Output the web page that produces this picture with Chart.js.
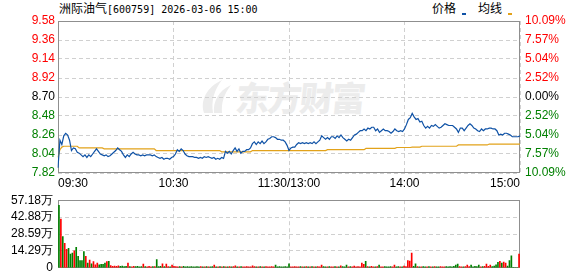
<!DOCTYPE html>
<html>
<head>
<meta charset="utf-8">
<script src="https://cdn.jsdelivr.net/npm/chart.js@4.4.1/dist/chart.umd.min.js"></script>
<style>
  body { margin: 0; width: 578px; height: 276px; overflow: hidden; background: #fff; position: relative; }
  .cjk { font-family: "Noto Sans CJK SC", sans-serif; }
  #title { position: absolute; left: 59px; top: 0; line-height: 16px; font-size: 12px; color: #000; white-space: nowrap; }
  #title .mono { font-family: "DejaVu Sans Mono", monospace; font-size: 10px; }
  .lg { position: absolute; top: 0; line-height: 16px; font-size: 12px; color: #000; }
  .sw { position: absolute; top: 13px; width: 4px; height: 2px; }
  #wm { position: absolute; left: 236px; top: 76px; font-size: 34px; letter-spacing: -2px; font-weight: 900; color: #ececec; line-height: 42px; transform: skewX(-6deg); }
  #logo { position: absolute; left: 197px; top: 78px; }
  canvas { position: absolute; left: 0; }
</style>
</head>
<body>
<svg id="logo" width="38" height="38" viewBox="0 0 38 38">
  <path d="M7 35 C3 22 10 9 25 2 C17 12 14 23 16 35 Z" fill="#ececec"/>
  <path d="M17 35 C16 24 21 13 34 7 C27 16 24 25 25 35 Z" fill="#ececec"/>
</svg>
<div id="wm" class="cjk">东方财富</div>
<div id="title"><span class="cjk">洲际油气</span><span class="mono">[600759] 2026-03-06 15:00</span></div>
<div class="lg cjk" style="left:432px">价格</div>
<div class="sw" style="left:462px;background:#0f52a6"></div>
<div class="lg cjk" style="left:478px">均线</div>
<div class="sw" style="left:508px;background:#e2a21a"></div>
<canvas id="priceChart" width="578" height="190" style="top:0"></canvas>
<canvas id="volChart" width="578" height="92" style="top:188px"></canvas>
<script>
// 分时数据
const prevClose = 8.70;
const priceMin = 7.82;
const priceMax = 9.58;
const priceStep = 0.22;
const volMax = 57.18;

const xTickLabels = ['09:30', '10:30', '11:30/13:00', '14:00', '15:00'];
const pctLabels = ['10.09%', '7.57%', '5.04%', '2.52%', '0.00%', '2.52%', '5.04%', '7.57%', '10.09%'];
const volLabels = ['0', '14.29万', '28.59万', '42.88万', '57.18万'];

// 时间轴 09:30-11:30, 13:01-15:00
const times = [];
for (let m = 0; m <= 240; m++) {
    let t = m <= 120 ? 9 * 60 + 30 + m : 13 * 60 + (m - 120);
    times.push(String(Math.floor(t / 60)).padStart(2, '0') + ':' + String(t % 60).padStart(2, '0'));
}

const prices = [
    7.88, 8.20, 8.15, 8.25, 8.28, 8.26, 8.20, 8.08, 8.11, 8.10,
    8.06, 8.05, 8.03, 8.01, 8.03, 8.00, 8.03, 8.01, 8.04, 8.07,
    8.10, 8.07, 8.04, 8.03, 8.02, 8.03, 8.01, 8.02, 8.04, 8.06,
    8.08, 8.11, 8.09, 8.07, 8.03, 8.00, 8.03, 8.01, 8.04, 8.06,
    8.04, 8.03, 8.03, 8.02, 8.03, 8.02, 8.03, 8.03, 8.03, 8.02,
    8.03, 8.01, 8.00, 7.99, 8.00, 7.98, 7.99, 7.99, 7.98, 8.00,
    8.01, 8.04, 8.09, 8.07, 8.10, 8.08, 8.04, 8.02, 8.01, 8.01,
    8.01, 8.00, 8.00, 7.99, 8.00, 7.99, 8.01, 8.00, 8.01, 8.00,
    7.99, 8.00, 7.98, 7.99, 7.98, 8.00, 7.99, 8.07, 8.05, 8.07,
    8.04, 8.08, 8.11, 8.07, 8.10, 8.05, 8.07, 8.07, 8.09, 8.09,
    8.11, 8.16, 8.18, 8.15, 8.18, 8.16, 8.19, 8.16, 8.18, 8.21,
    8.22, 8.24, 8.24, 8.23, 8.21, 8.21, 8.20, 8.20, 8.18, 8.14,
    8.08, 8.11, 8.12, 8.12, 8.15, 8.17, 8.16, 8.17, 8.16, 8.17,
    8.16, 8.17, 8.16, 8.18, 8.16, 8.18, 8.20, 8.25, 8.23, 8.21,
    8.23, 8.21, 8.24, 8.24, 8.22, 8.25, 8.23, 8.26, 8.23, 8.21,
    8.19, 8.21, 8.20, 8.23, 8.26, 8.27, 8.29, 8.31, 8.31, 8.33,
    8.31, 8.34, 8.33, 8.35, 8.35, 8.31, 8.33, 8.29, 8.31, 8.33,
    8.31, 8.31, 8.30, 8.28, 8.30, 8.33, 8.31, 8.30, 8.31, 8.30,
    8.33, 8.38, 8.44, 8.46, 8.51, 8.47, 8.44, 8.45, 8.41, 8.42,
    8.37, 8.34, 8.36, 8.34, 8.37, 8.36, 8.38, 8.36, 8.34, 8.35,
    8.37, 8.39, 8.38, 8.37, 8.37, 8.37, 8.35, 8.33, 8.29, 8.34,
    8.34, 8.31, 8.34, 8.37, 8.39, 8.37, 8.34, 8.33, 8.31, 8.30,
    8.33, 8.31, 8.33, 8.33, 8.34, 8.34, 8.33, 8.33, 8.31, 8.26,
    8.27, 8.26, 8.28, 8.28, 8.27, 8.26, 8.24, 8.24, 8.24, 8.24,
    8.25
];

const avgPrices = [
    8.00, 8.09, 8.12, 8.13, 8.13, 8.13, 8.13, 8.13, 8.13, 8.13,
    8.13, 8.11, 8.11, 8.11, 8.11, 8.11, 8.11, 8.11, 8.11, 8.11,
    8.11, 8.11, 8.11, 8.11, 8.10, 8.10, 8.10, 8.10, 8.10, 8.10,
    8.10, 8.10, 8.10, 8.10, 8.10, 8.10, 8.10, 8.10, 8.10, 8.10,
    8.10, 8.10, 8.10, 8.10, 8.10, 8.10, 8.10, 8.10, 8.10, 8.10,
    8.10, 8.08, 8.08, 8.08, 8.08, 8.08, 8.08, 8.08, 8.08, 8.08,
    8.08, 8.08, 8.08, 8.08, 8.08, 8.08, 8.08, 8.08, 8.08, 8.08,
    8.08, 8.08, 8.08, 8.08, 8.08, 8.08, 8.08, 8.08, 8.08, 8.08,
    8.08, 8.08, 8.08, 8.08, 8.08, 8.065, 8.065, 8.065, 8.065, 8.065,
    8.065, 8.065, 8.065, 8.065, 8.065, 8.065, 8.065, 8.065, 8.065, 8.065,
    8.065, 8.08, 8.08, 8.08, 8.08, 8.08, 8.08, 8.08, 8.08, 8.08,
    8.08, 8.08, 8.08, 8.08, 8.08, 8.08, 8.08, 8.08, 8.08, 8.08,
    8.08, 8.08, 8.08, 8.08, 8.08, 8.08, 8.08, 8.08, 8.08, 8.08,
    8.08, 8.08, 8.08, 8.08, 8.08, 8.08, 8.08, 8.08, 8.08, 8.08,
    8.09, 8.09, 8.09, 8.09, 8.09, 8.09, 8.09, 8.09, 8.09, 8.09,
    8.09, 8.09, 8.09, 8.09, 8.09, 8.09, 8.09, 8.09, 8.09, 8.09,
    8.105, 8.105, 8.105, 8.105, 8.105, 8.105, 8.105, 8.105, 8.105, 8.105,
    8.105, 8.105, 8.105, 8.105, 8.105, 8.105, 8.115, 8.115, 8.115, 8.115,
    8.115, 8.115, 8.115, 8.115, 8.12, 8.12, 8.12, 8.12, 8.12, 8.13,
    8.13, 8.13, 8.13, 8.13, 8.13, 8.13, 8.13, 8.13, 8.13, 8.13,
    8.13, 8.13, 8.13, 8.13, 8.13, 8.13, 8.13, 8.13, 8.145, 8.145,
    8.145, 8.145, 8.145, 8.145, 8.145, 8.145, 8.145, 8.145, 8.145, 8.145,
    8.145, 8.145, 8.145, 8.145, 8.155, 8.155, 8.155, 8.155, 8.155, 8.155,
    8.155, 8.155, 8.155, 8.155, 8.155, 8.155, 8.155, 8.155, 8.155, 8.155,
    8.155
];

// 成交量 (万手)
const volumes = [
    52.8, 41.3, 26.5, 20.8, 15.6, 16.4, 11.7, 12.5, 14.3, 17.4,
    9.6, 6.2, 6.2, 13.8, 9.6, 3.9, 6.5, 3.4, 5.2, 2.6,
    3.9, 2.6, 2.9, 2.9, 3.9, 5.2, 5.5, 1.8, 1.2, 1.5,
    1.3, 1.6, 1.2, 1.4, 1.0, 1.2, 3.9, 1.1, 0.9, 1.3,
    1.0, 1.2, 0.8, 1.1, 3.1, 1.0, 0.9, 1.2, 0.8, 1.0,
    1.1, 7.0, 1.0, 1.2, 3.4, 1.0, 3.1, 1.1, 0.9, 2.3,
    1.2, 1.0, 0.8, 1.1, 0.9, 1.2, 0.8, 1.0, 0.9, 1.1,
    0.8, 0.9, 1.0, 0.8, 1.1, 0.9, 0.8, 1.0, 0.9, 0.8,
    1.0, 2.3, 0.9, 0.8, 1.1, 0.9, 1.0, 0.8, 0.9, 1.0,
    0.8, 1.1, 1.6, 0.9, 0.8, 1.0, 0.9, 0.8, 1.1, 0.9,
    0.8, 1.6, 1.0, 0.9, 0.8, 1.1, 0.9, 0.8, 1.0, 0.9,
    0.8, 1.0, 0.9, 2.3, 0.8, 1.1, 0.9, 0.8, 1.0, 0.9,
    3.4, 0.9, 0.8, 1.0, 0.9, 0.8, 1.1, 0.9, 0.8, 1.0,
    0.9, 0.8, 1.0, 0.9, 0.8, 1.1, 0.9, 2.3, 1.0, 0.8,
    0.9, 1.0, 0.8, 0.9, 1.1, 0.8, 0.9, 1.6, 1.0, 0.8,
    2.3, 0.9, 1.0, 0.8, 1.5, 0.9, 1.0, 0.8, 3.9, 2.9,
    5.5, 1.0, 0.8, 1.2, 0.9, 0.8, 1.0, 2.3, 0.9, 0.8,
    1.0, 0.9, 0.8, 1.1, 0.9, 2.3, 0.8, 1.0, 0.9, 0.8,
    1.5, 1.0, 6.2, 5.7, 12.5, 1.2, 3.4, 1.0, 0.8, 0.9,
    1.1, 0.8, 0.9, 1.0, 0.8, 0.9, 1.1, 0.8, 0.9, 1.0,
    0.8, 0.9, 1.0, 0.8, 1.1, 0.9, 1.2, 2.3, 3.1, 1.0,
    0.9, 0.8, 1.1, 2.3, 1.0, 2.3, 0.9, 1.2, 1.0, 2.3,
    0.9, 1.0, 1.3, 3.1, 1.2, 2.3, 1.0, 1.5, 2.6, 4.7,
    5.5, 3.9, 4.9, 3.9, 1.4, 6.2, 10.1, 0.5, 0, 0,
    11.7
];

const upColor = '#ff0000';
const downColor = '#008000';
const gridColor = '#d0d0d0';

// 量柱颜色随价格涨跌
const volColors = [];
let last = downColor;
prices.forEach((p, i) => {
    const prev = i === 0 ? prevClose : prices[i - 1];
    if (p > prev) last = upColor;
    else if (p < prev) last = downColor;
    volColors.push(last);
});

// 刻度颜色 (自下而上): 跌绿 平黑 涨红
const tickColors = [downColor, downColor, downColor, downColor, '#000000', upColor, upColor, upColor, upColor];

Chart.defaults.font.family = "'Liberation Sans', Arial, sans-serif";
Chart.defaults.font.size = 12;

const framePlugin = {
    id: 'frame',
    beforeDatasetsDraw(chart) {
        const { ctx, chartArea: a } = chart;
        ctx.save();
        ctx.strokeStyle = '#8f8f8f';
        ctx.lineWidth = 1;
        ctx.setLineDash([]);
        ctx.strokeRect(Math.round(a.left) + 0.5, Math.round(a.top) + 0.5,
            Math.round(a.right - a.left) - 1, Math.round(a.bottom - a.top) - 1);
        ctx.restore();
    }
};

const xGrid = { color: c => (c.index % 60 === 0 ? gridColor : 'rgba(0,0,0,0)'), drawTicks: false };

new Chart(document.getElementById('priceChart'), {
    type: 'line',
    data: {
        labels: times,
        datasets: [
            { data: prices, borderColor: '#0f52a6', borderWidth: 1.2, pointRadius: 0, yAxisID: 'y' },
            { data: avgPrices, borderColor: '#e2a21a', borderWidth: 1.2, pointRadius: 0, yAxisID: 'y' }
        ]
    },
    options: {
        responsive: false, animation: false, events: [],
        layout: { padding: { top: 21 } },
        plugins: { legend: { display: false }, tooltip: { enabled: false } },
        scales: {
            x: {
                offset: false,
                grid: xGrid,
                border: { display: false, dash: [4, 3] },
                ticks: {
                    autoSkip: false, maxRotation: 0, align: 'inner', padding: 3, color: '#000',
                    callback: (v, i) => (i % 60 === 0 ? xTickLabels[i / 60] : '')
                },
                afterFit: s => { s.height = 17; }
            },
            y: {
                position: 'left', min: priceMin, max: priceMax,
                grid: { color: gridColor, drawTicks: false },
                border: { display: false, dash: [4, 3] },
                ticks: { stepSize: priceStep, padding: 3, color: tickColors, callback: v => v.toFixed(2) },
                afterFit: s => { s.width = 58; }
            },
            y2: {
                position: 'right', min: priceMin, max: priceMax,
                grid: { display: false, drawTicks: false },
                border: { display: false },
                ticks: { stepSize: priceStep, padding: 5, color: tickColors, callback: (v, i) => pctLabels[pctLabels.length - 1 - i] },
                afterFit: s => { s.width = 58; }
            }
        }
    },
    plugins: [framePlugin]
});

new Chart(document.getElementById('volChart'), {
    type: 'bar',
    data: {
        labels: times,
        datasets: [{ data: volumes, backgroundColor: volColors, barThickness: 1 }]
    },
    options: {
        responsive: false, animation: false, events: [],
        layout: { padding: { top: 9, bottom: 10, right: 58 } },
        plugins: { legend: { display: false }, tooltip: { enabled: false } },
        scales: {
            x: {
                offset: true,
                grid: Object.assign({ offset: false }, xGrid),
                border: { display: false, dash: [4, 3] },
                ticks: { display: false, autoSkip: false },
                afterFit: s => { s.height = 0; }
            },
            y: {
                min: 0, max: volMax,
                grid: { color: gridColor, drawTicks: false },
                border: { display: false, dash: [4, 3] },
                ticks: { stepSize: volMax / 4, padding: 5, color: '#000', callback: (v, i) => volLabels[i] },
                afterFit: s => { s.width = 58; }
            }
        }
    },
    plugins: [framePlugin]
});
</script>
</body>
</html>
